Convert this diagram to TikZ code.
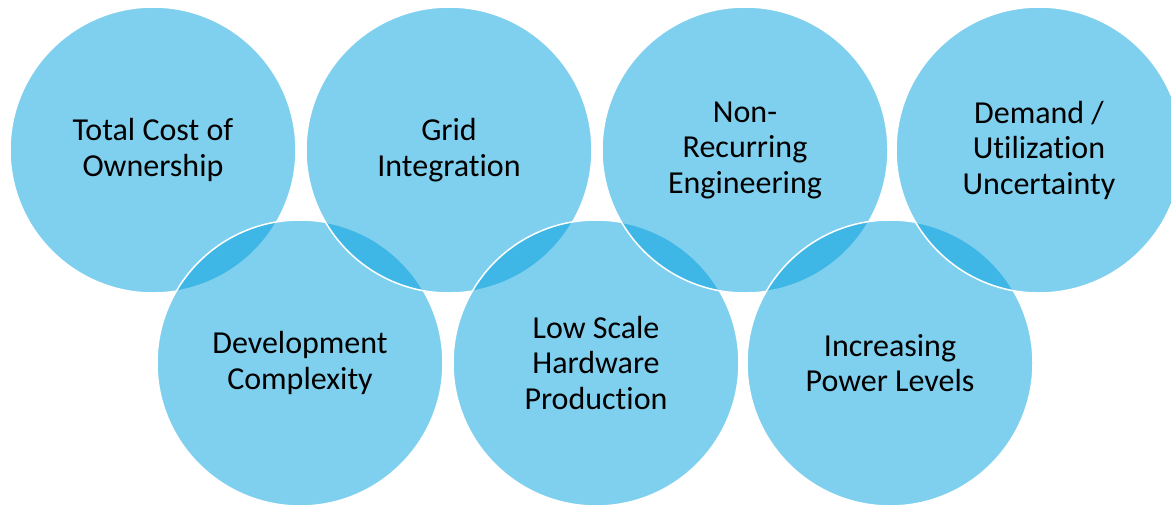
\documentclass[tikz,border=0pt]{standalone}
\usepackage{fontspec}
\setmainfont{Carlito}[Ligatures={NoCommon}]
\definecolor{bubble}{RGB}{0,160,222}
\begin{document}
\begin{tikzpicture}[x=1pt,y=-1pt,
  bub/.style={circle, minimum size=286pt, inner sep=0pt, fill=bubble, fill opacity=0.5,
    draw=white, draw opacity=1, line width=1.5pt, text opacity=1, text=black,
    align=center, font=\fontsize{32}{35.5}\selectfont}]
\useasboundingbox (0,0) rectangle (1171,504);
\clip (0,0) rectangle (1171,504);
\node[bub] (tco) at (153,150) {Total Cost of\\Ownership};
\node[bub] (dev) at (300,363) {Development\\Complexity};
\node[bub] (grid) at (449,150) {Grid\\Integration};
\node[bub] (low) at (596,363) {Low Scale\\Hardware\\Production};
\node[bub] (nre) at (745,150) {Non-\\Recurring\\Engineering};
\node[bub] (pow) at (890,363) {Increasing\\Power Levels};
\node[bub] (dem) at (1039,150) {Demand /\\Utilization\\Uncertainty};
\end{tikzpicture}
\end{document}
